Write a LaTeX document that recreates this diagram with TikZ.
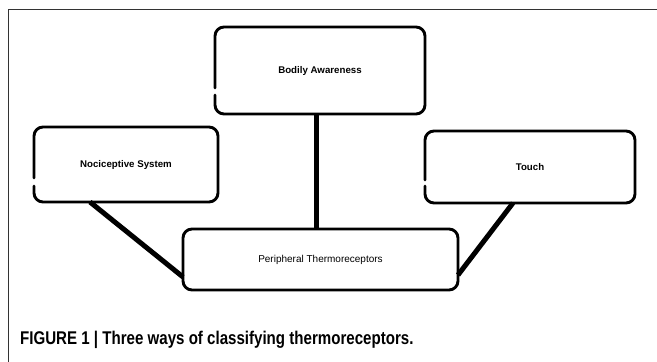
\documentclass[tikz,border=0pt]{standalone}
\usepackage{fontspec}
\setmainfont{Liberation Sans}
\newfontfamily\capfont[FakeStretch=0.82]{Liberation Sans}
\usetikzlibrary{calc}
\begin{document}
\begin{tikzpicture}[x=1pt,y=-1pt,
  boxnode/.style={inner sep=0pt, outer sep=0pt, font=\bfseries\fontsize{9.7}{11}\selectfont},
  boxline/.style={line width=2.9pt, rounded corners=9pt, line cap=round, line join=round},
  conn/.style={line width=5pt},
  frame/.style={line width=1pt, draw=black!80}]
\useasboundingbox (0,0) rectangle (657,362);
\fill[white] (0,0) rectangle (657,362);
\draw[frame] (657,9) -- (8,9) -- (8,362);

\node[boxnode, minimum width=210pt, minimum height=87pt] (bod) at (320,70.5) {Bodily Awareness};
\node[boxnode, minimum width=184pt, minimum height=75pt] (noc) at (126,164.5) {Nociceptive System};
\node[boxnode, minimum width=210pt, minimum height=72pt] (tou) at (530,167) {Touch};
\node[boxnode, font=\fontsize{10}{12}\selectfont, minimum width=275pt, minimum height=61pt] (per) at (320.5,259.5) {Peripheral Thermoreceptors};

\draw[conn] ($(bod.south)+(-4,0)$) -- ($(per.north)+(-4.5,0)$);
\draw[conn] ($(noc.south west)+(56,0)$) -- ($(per.south west)+(0,-13)$);
\draw[conn] ($(tou.south west)+(88,0)$) -- ($(per.south east)+(0,-15)$);

\draw[boxline] ($(bod.north west)+(0,68)$) -- (bod.south west) -- (bod.south east) -- (bod.north east) -- (bod.north west) -- ($(bod.north west)+(0,61)$);
\draw[boxline] ($(noc.north west)+(0,59)$) -- (noc.south west) -- (noc.south east) -- (noc.north east) -- (noc.north west) -- ($(noc.north west)+(0,51)$);
\draw[boxline] ($(tou.north west)+(0,55)$) -- (tou.south west) -- (tou.south east) -- (tou.north east) -- (tou.north west) -- ($(tou.north west)+(0,49)$);
\draw[boxline] (per.north west) -- (per.south west) -- (per.south east) -- (per.north east) -- cycle;

\node[anchor=base west, inner sep=0pt, font=\capfont\bfseries\fontsize{18.4}{20}\selectfont] (cap) at (20,344) {FIGURE 1 | Three ways of classifying thermoreceptors.};
\end{tikzpicture}
\end{document}
